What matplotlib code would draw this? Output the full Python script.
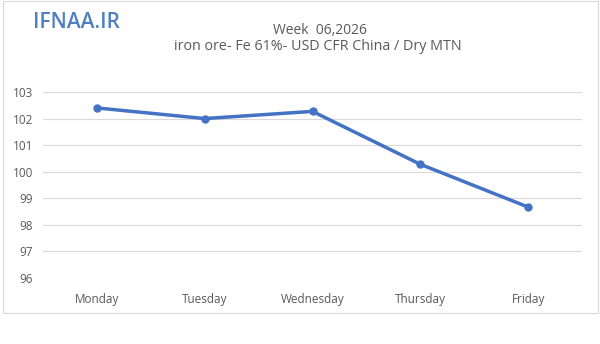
import matplotlib
matplotlib.use("Agg")
import matplotlib.pyplot as plt
from matplotlib.patches import Rectangle

days = ["Monday", "Tuesday", "Wednesday", "Thursday", "Friday"]
prices = [102.4, 102.0, 102.27, 100.28, 98.67]
yticks = [96, 97, 98, 99, 100, 101, 102, 103]

plt.rcParams['font.family'] = ['Open Sans', 'DejaVu Sans']
gray = '#595959'

fig = plt.figure(figsize=(6, 3.44), dpi=100)
fig.patches.append(Rectangle((3/600, 1 - 313/344), 595/600, 312/344, transform=fig.transFigure,
                             fill=False, edgecolor='#d9d9d9', linewidth=0.8))

ax = fig.add_axes([43/600, 1 - 278/344, 539/600, 186/344])
ax.plot(range(len(days)), prices, color='#4472c4', linewidth=2.5, marker='o', markersize=5)
ax.set_xlim(-0.5, len(days) - 0.5)
ax.set_ylim(96, 103)
ax.set_yticks(yticks)
ax.set_xticks(range(len(days)))
ax.set_xticklabels(days)
ax.grid(axis='y', color='#d9d9d9', linewidth=0.8)
ax.set_axisbelow(True)
for s in ax.spines.values():
    s.set_visible(False)
ax.tick_params(length=0, colors=gray, labelsize=8.5)
ax.tick_params(axis='x', pad=11)
ax.tick_params(axis='y', pad=7)

fig.text(320/600, 1 - 30/344, "Week  06,2026", ha='center', va='center', fontsize=10, color=gray)
fig.text(318/600, 1 - 47/344, "iron ore- Fe 61%- USD CFR China / Dry MTN", ha='center', va='center',
         fontsize=10.3, color=gray)
fig.text(33/600, 1 - 22/344, "IFNAA.IR", ha='left', va='center', fontsize=15, color='#4f7fc0',
         fontweight='semibold')

fig.savefig("out.png", dpi=100)
